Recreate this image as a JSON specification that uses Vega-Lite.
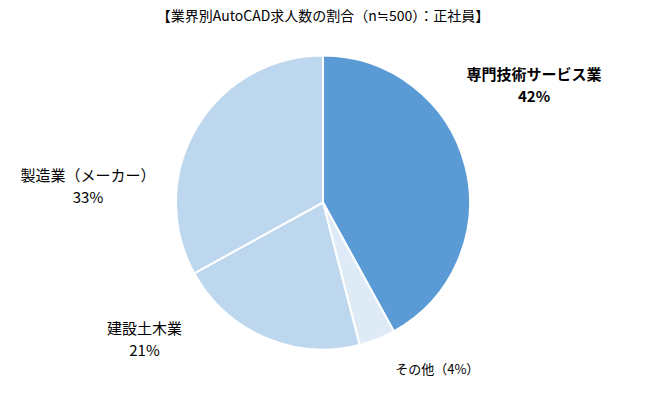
{
  "$schema": "https://vega.github.io/schema/vega-lite/v6.json",
  "width": 646,
  "height": 405,
  "padding": 0,
  "autosize": "none",
  "background": "white",
  "title": {
    "text": "【業界別AutoCAD求人数の割合（n≒500）：正社員】",
    "orient": "top",
    "anchor": "middle",
    "offset": -24,
    "font": "Noto Sans CJK JP",
    "fontSize": 14,
    "fontWeight": "normal",
    "color": "#000000"
  },
  "view": {"stroke": null},
  "data": {
    "values": [
      {"category": "専門技術サービス業", "value": 42, "label": "専門技術サービス業\n42%", "order": 1},
      {"category": "その他", "value": 4, "label": "その他（4%）", "order": 2},
      {"category": "建設土木業", "value": 21, "label": "建設土木業\n21%", "order": 3},
      {"category": "製造業（メーカー）", "value": 33, "label": "製造業（メーカー）\n33%", "order": 4}
    ]
  },
  "encoding": {
    "theta": {"field": "value", "type": "quantitative", "stack": true},
    "order": {"field": "order", "type": "quantitative"}
  },
  "layer": [
    {
      "mark": {"type": "arc", "outerRadius": 147, "stroke": "white", "strokeWidth": 2},
      "encoding": {
        "color": {
          "field": "category",
          "type": "nominal",
          "scale": {
            "domain": ["専門技術サービス業", "その他", "建設土木業", "製造業（メーカー）"],
            "range": ["#5B9BD5", "#DEEBF7", "#BDD7EE", "#BDD7EE"]
          },
          "legend": null
        }
      }
    },
    {
      "mark": {"type": "text", "radius": 220, "dx": -2, "dy": -73, "font": "Noto Sans CJK JP", "fontSize": 15, "fontWeight": "bold", "lineBreak": "\n", "lineHeight": 22, "align": "center", "baseline": "middle", "color": "#000000"},
      "encoding": {"text": {"condition": {"test": "datum.order == 1", "field": "label"}, "value": ""}}
    },
    {
      "mark": {"type": "text", "radius": 180, "dx": 48, "dy": 0, "font": "Noto Sans CJK JP", "fontSize": 13, "lineBreak": "\n", "align": "center", "baseline": "middle", "color": "#000000"},
      "encoding": {"text": {"condition": {"test": "datum.order == 2", "field": "label"}, "value": ""}}
    },
    {
      "mark": {"type": "text", "radius": 180, "dx": -107, "dy": -39, "font": "Noto Sans CJK JP", "fontSize": 15, "lineBreak": "\n", "lineHeight": 22, "align": "center", "baseline": "middle", "color": "#000000"},
      "encoding": {"text": {"condition": {"test": "datum.order == 3", "field": "label"}, "value": ""}}
    },
    {
      "mark": {"type": "text", "radius": 230, "dx": -37, "dy": 91, "font": "Noto Sans CJK JP", "fontSize": 15, "lineBreak": "\n", "lineHeight": 22, "align": "center", "baseline": "middle", "color": "#000000"},
      "encoding": {"text": {"condition": {"test": "datum.order == 4", "field": "label"}, "value": ""}}
    }
  ]
}
